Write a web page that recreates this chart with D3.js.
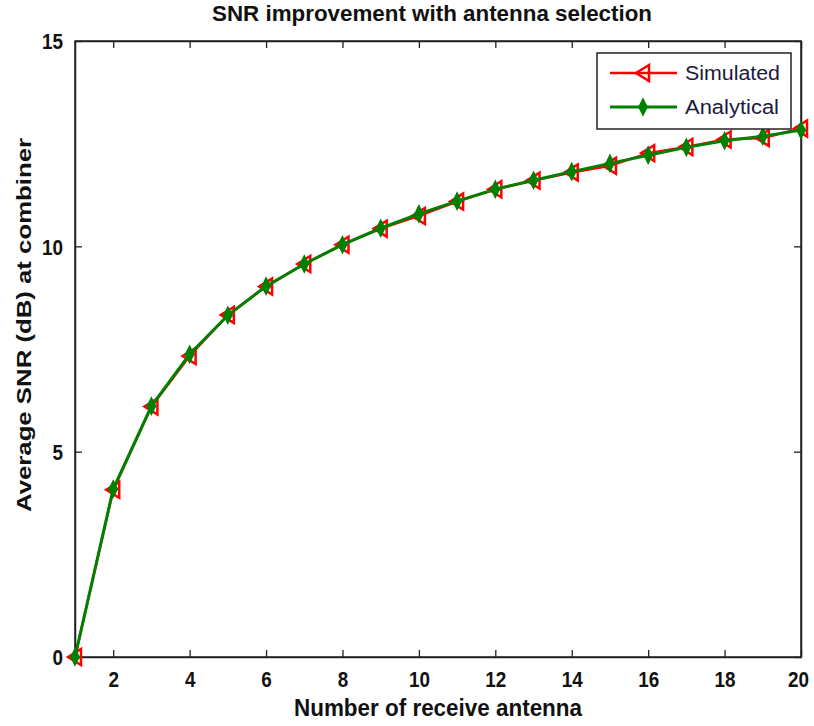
<!DOCTYPE html>
<html><head><meta charset="utf-8">
<script src="https://cdn.jsdelivr.net/npm/d3@7/dist/d3.min.js"></script>
<style>
body{margin:0;background:#fff;}
svg{display:block;}
text{font-family:"Liberation Sans Narrow","Arial Narrow","Liberation Sans",Arial,sans-serif;}
</style></head>
<body>
<svg id="chart" width="814" height="726"></svg>
<script>
const antennas = [1,2,3,4,5,6,7,8,9,10,11,12,13,14,15,16,17,18,19,20];
const simulated = [0,4.07,6.1,7.33,8.33,9.02,9.57,10.04,10.43,10.74,11.09,11.39,11.6,11.8,11.96,12.27,12.42,12.6,12.64,12.87];
const analytical = [0,4.09,6.11,7.37,8.32,9.03,9.57,10.04,10.44,10.79,11.1,11.39,11.61,11.82,12.02,12.22,12.41,12.57,12.68,12.83];
const xTicks = [2,4,6,8,10,12,14,16,18,20];
const yTicks = [0,5,10,15];
const seriesNames = ["Simulated","Analytical"];
const titleText = "SNR improvement with antenna selection";
const xLabel = "Number of receive antenna";
const yLabel = "Average SNR (dB) at combiner";

const svg = d3.select("#chart");
const L = 75, R = 801, T = 41, B = 657;
const x = d3.scaleLinear().domain([1,20]).range([L,R]);
const y = d3.scaleLinear().domain([0,15]).range([B,T]);

// axes with inner ticks
const tickLen = 7;
const gB = svg.append("g").attr("transform",`translate(0,${B})`)
  .call(d3.axisBottom(x).tickValues(xTicks).tickSizeInner(-tickLen).tickSizeOuter(0).tickPadding(13));
const gT = svg.append("g").attr("transform",`translate(0,${T})`)
  .call(d3.axisTop(x).tickValues(xTicks).tickSizeInner(-tickLen).tickSizeOuter(0).tickFormat(""));
const gL = svg.append("g").attr("transform",`translate(${L},0)`)
  .call(d3.axisLeft(y).tickValues(yTicks).tickSizeInner(-tickLen).tickSizeOuter(0).tickPadding(12));
const gR = svg.append("g").attr("transform",`translate(${R},0)`)
  .call(d3.axisRight(y).tickValues(yTicks).tickSizeInner(-tickLen).tickSizeOuter(0).tickFormat(""));
[gB,gT,gL,gR].forEach(g=>{
  g.selectAll(".domain").attr("stroke","#222").attr("stroke-width",1.5);
  g.selectAll(".tick line").attr("stroke","#222").attr("stroke-width",1.3);
});
[gB,gL].forEach(g=>{
  g.selectAll(".tick text").attr("font-size",22).attr("font-weight","bold").attr("fill","#111")
    .attr("lengthAdjust","spacingAndGlyphs")
    .attr("textLength",function(){ return this.textContent.length*10.5; });
});
gL.selectAll(".tick text").attr("dy","0.36em");
gB.selectAll(".tick text").attr("dy","0.75em");
gB.selectAll(".tick text").filter(d=>d===20).attr("dx",-3);

// box
svg.append("rect").attr("x",L).attr("y",T).attr("width",R-L).attr("height",B-T)
  .attr("fill","none").attr("stroke","#222").attr("stroke-width",1.5);

const line = d3.line().x((d,i)=>x(antennas[i])).y(d=>y(d));

const triPath = "M-7,0 L6,-8 L6,8 Z";
const diaPath = "M0,-7 L3.5,0 L0,7 L-3.5,0 Z M-5,0 L5,0";

// simulated (red)
svg.append("path").datum(simulated).attr("d",line).attr("fill","none")
  .attr("stroke","#ff0000").attr("stroke-width",2.5);
svg.append("g").selectAll("path").data(simulated).join("path")
  .attr("transform",(d,i)=>`translate(${x(antennas[i])},${y(d)})`)
  .attr("d",triPath).attr("fill","none").attr("stroke","#ff0000").attr("stroke-width",2.5);

// analytical (green)
svg.append("path").datum(analytical).attr("d",line).attr("fill","none")
  .attr("stroke","#008000").attr("stroke-width",3);
svg.append("g").selectAll("path").data(analytical).join("path")
  .attr("transform",(d,i)=>`translate(${x(antennas[i])},${y(d)})`)
  .attr("d",diaPath).attr("fill","#008000").attr("stroke","#008000").attr("stroke-width",2.5);

// title & labels
svg.append("text").attr("x",432).attr("y",21).attr("text-anchor","middle")
  .attr("font-size",22).attr("font-weight","bold").attr("fill","#111")
  .attr("textLength",440).attr("lengthAdjust","spacingAndGlyphs").text(titleText);
svg.append("text").attr("x",438).attr("y",716).attr("text-anchor","middle")
  .attr("font-size",23).attr("font-weight","bold").attr("fill","#111")
  .attr("textLength",288).attr("lengthAdjust","spacingAndGlyphs").text(xLabel);
svg.append("text").attr("transform","translate(31,325) rotate(-90)").attr("text-anchor","middle")
  .style("font-family","'Liberation Sans',Arial,sans-serif")
  .attr("font-size",21).attr("font-weight","bold").attr("fill","#111")
  .attr("textLength",374).attr("lengthAdjust","spacingAndGlyphs").text(yLabel);

// legend
const lg = svg.append("g");
lg.append("rect").attr("x",597).attr("y",53).attr("width",194).attr("height",76)
  .attr("fill","#fff").attr("stroke","#222").attr("stroke-width",1.5);
const lgY = [73,107];
const colors = ["#ff0000","#008000"];
seriesNames.forEach((n,i)=>{
  lg.append("line").attr("x1",610).attr("x2",677).attr("y1",lgY[i]).attr("y2",lgY[i])
    .attr("stroke",colors[i]).attr("stroke-width",i? 3:2.5);
  lg.append("path").attr("transform",`translate(643,${lgY[i]})`)
    .attr("d",i?diaPath:triPath).attr("fill",i?"#008000":"none").attr("stroke",colors[i]).attr("stroke-width",2.5);
  lg.append("text").attr("x",685).attr("y",lgY[i]).attr("dy","0.35em")
    .style("font-family","'Liberation Sans',Arial,sans-serif")
    .attr("font-size",20).attr("fill","#1a1a40")
    .attr("textLength",i?94:95).attr("lengthAdjust","spacingAndGlyphs").text(n);
});
</script>
</body></html>
